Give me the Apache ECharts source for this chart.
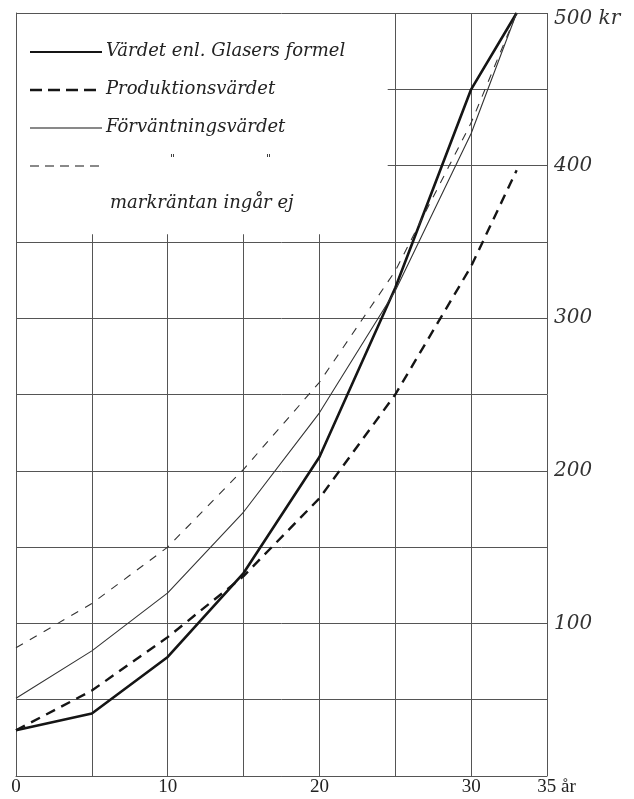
<!DOCTYPE html>
<html>
<head>
<meta charset="utf-8">
<script src="https://cdn.jsdelivr.net/npm/echarts@6/dist/echarts.min.js"></script>
<style>
html,body{margin:0;padding:0;background:#fff;}
#c{width:634px;height:799px;}
</style>
</head>
<body>
<div id="c"></div>
<script>
// Data (years, kr)
const years = [0, 5, 10, 15, 20, 25, 30, 33];
const glaser = [30, 41, 78, 133, 209, 320, 450, 500];
const produktion = [30, 56, 91, 131, 182, 250, 334, 397];
const forvantning = [51, 82, 120, 173, 238, 318, 421, 500];
const utanMarkranta = [84, 113, 150, 201, 258, 331, 428, 500];
const xTickLabels = {0: '0', 10: '10', 20: '20', 30: '30', 35: '\u00a0\u00a0\u00a0\u00a035 år'};
const yTickLabels = {100: '100', 200: '200', 300: '300', 400: '400', 500: '500 kr'};
const legendNames = ['Värdet enl. Glasers formel', 'Produktionsvärdet', 'Förväntningsvärdet', 'markräntan ingår ej'];

const pairs = a => years.map((x, i) => [x, a[i]]);
const ink = '#151515';
const gridCol = '#555';
const serif = 'DejaVu Serif';

const chart = echarts.init(document.getElementById('c'), null, {renderer: 'canvas'});
const option = {
  backgroundColor: '#fff',
  animation: false,
  grid: {left: 16, right: 87, top: 13, bottom: 23, containLabel: false},
  xAxis: {
    type: 'value', min: 0, max: 35, interval: 5,
    axisLine: {show: true, lineStyle: {color: gridCol, width: 1}},
    axisTick: {show: false},
    splitLine: {show: true, lineStyle: {color: gridCol, width: 1}},
    axisLabel: {
      margin: 2, color: '#222', fontFamily: 'Liberation Serif', fontSize: 19,
      formatter: v => xTickLabels[v] || ''
    }
  },
  yAxis: {
    type: 'value', position: 'right', min: 0, max: 500, interval: 50,
    axisLine: {show: true, lineStyle: {color: gridCol, width: 1}},
    axisTick: {show: false},
    splitLine: {show: true, lineStyle: {color: gridCol, width: 1}},
    axisLabel: {
      margin: 7, color: '#333', fontFamily: serif, fontStyle: 'italic', fontSize: 20,
      formatter: v => v === 500 ? '{t|500 kr}' : (yTickLabels[v] || ''),
      rich: {t: {fontFamily: serif, fontStyle: 'italic', fontSize: 20, color: '#333', padding: [12, 0, 0, 0]}}
    }
  },
  series: [
    {name: legendNames[0], type: 'line', data: pairs(glaser), symbol: 'none', z: 5,
      lineStyle: {color: ink, width: 2.6, type: 'solid'}},
    {name: legendNames[1], type: 'line', data: pairs(produktion), symbol: 'none', z: 5,
      lineStyle: {color: ink, width: 2.4, type: [10, 7]}},
    {name: legendNames[2], type: 'line', data: pairs(forvantning), symbol: 'none', z: 5,
      lineStyle: {color: '#333', width: 1.1, type: 'solid'}},
    {name: legendNames[3], type: 'line', data: pairs(utanMarkranta), symbol: 'none', z: 5,
      lineStyle: {color: '#333', width: 1.1, type: [8, 8]}}
  ]
};
chart.setOption(option);

// blank legend panel and hand-lettered legend
const p0 = chart.convertToPixel({gridIndex: 0}, [0, 500]);
const p1 = chart.convertToPixel({gridIndex: 0}, [24.5, 355]);
const tf = {fontFamily: serif, fontStyle: 'italic', fontSize: 18, fill: '#222'};
function lg(y, w, dash) {
  return {type: 'line', z: 10, shape: {x1: 30, y1: y, x2: 102, y2: y},
    style: {stroke: ink, lineWidth: w, lineDash: dash}};
}
function tx(x, y, t, extra) {
  return {type: 'text', z: 10, x: x, y: y,
    style: Object.assign({}, tf, {text: t, verticalAlign: 'middle'}, extra || {})};
}
chart.setOption({
  graphic: [
    {type: 'rect', z: 1, shape: {x: p0[0] + 1, y: p0[1] + 1, width: p1[0] - p0[0] - 1, height: p1[1] - p0[1] - 1},
      style: {fill: '#fff'}},
    lg(52, 2.2, null), tx(106, 51, legendNames[0]),
    lg(90, 2.4, [12, 6]), tx(106, 89, legendNames[1]),
    lg(128, 1.1, null), tx(106, 127, legendNames[2]),
    lg(166, 1.1, [9, 6]),
    tx(170, 159, '"', {fontSize: 11}), tx(266, 159, '"', {fontSize: 11}),
    tx(110, 203, legendNames[3])
  ]
});
</script>
</body>
</html>
